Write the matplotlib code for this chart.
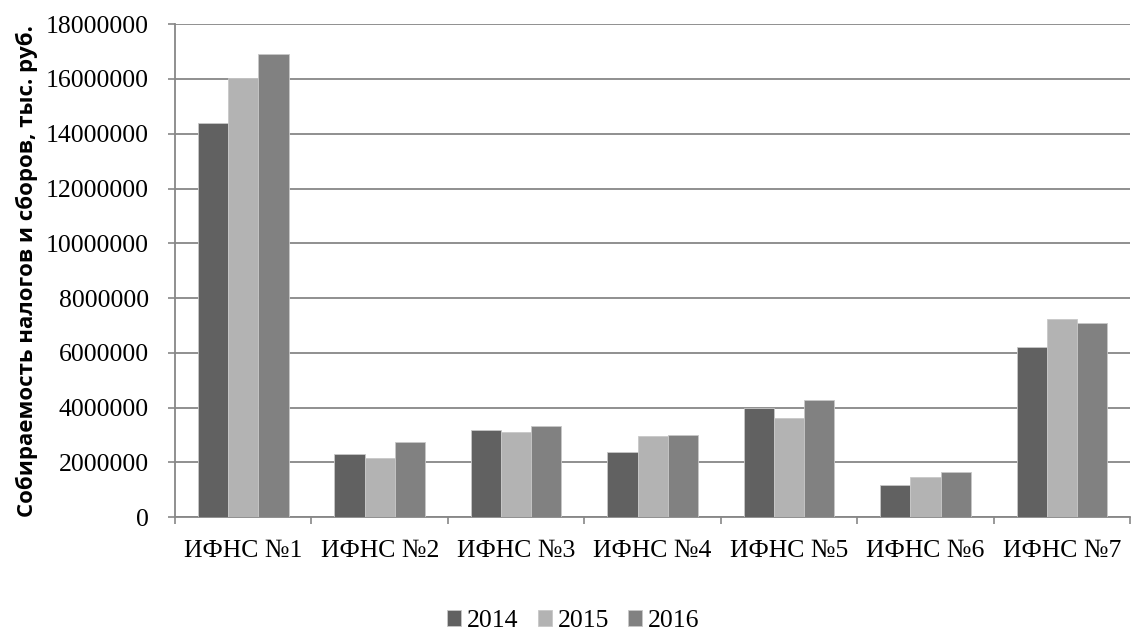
import matplotlib.pyplot as plt
import numpy as np

# Tax collection by inspectorate, thousand rubles
categories = ['ИФНС №1', 'ИФНС №2', 'ИФНС №3', 'ИФНС №4', 'ИФНС №5', 'ИФНС №6', 'ИФНС №7']
years = ['2014', '2015', '2016']
values_2014 = [14410000, 2310000, 3200000, 2370000, 4000000, 1190000, 6200000]
values_2015 = [16020000, 2150000, 3110000, 2960000, 3620000, 1480000, 7220000]
values_2016 = [16910000, 2740000, 3330000, 2990000, 4280000, 1640000, 7080000]
colors = ['#616161', '#b3b3b3', '#818181']

serif = ['Liberation Serif', 'DejaVu Serif']
plt.rcParams['font.family'] = serif

fig = plt.figure(figsize=(11.33, 6.33), dpi=100)
ax = fig.add_axes([0.1545, 0.1828, 0.843, 0.779])

x = np.arange(len(categories))
w = 0.221
for i, (vals, c, lab) in enumerate(zip([values_2014, values_2015, values_2016], colors, years)):
    ax.bar(x + (i - 1) * w, vals, width=w, color=c, edgecolor='#c8c8c8',
           linewidth=0.6, label=lab, zorder=3)

ax.set_xlim(-0.5, len(categories) - 0.5)
ax.set_ylim(0, 18000000)
ax.set_yticks(np.arange(0, 18000001, 2000000))
ax.yaxis.set_major_formatter(plt.FuncFormatter(lambda v, p: f'{int(v)}'))
ax.grid(axis='y', color='#878787', linewidth=1.3, zorder=0)

# category labels centred, tick marks on the group boundaries
ax.set_xticks(x)
ax.set_xticklabels(categories)
ax.set_xticks(np.arange(-0.5, len(categories)), minor=True)
ax.tick_params(axis='x', which='major', length=0, pad=16, labelsize=18.5)
ax.tick_params(axis='x', which='minor', length=5, width=1.2, color='#878787')
ax.tick_params(axis='y', length=5, width=1.2, color='#878787', labelsize=18.5, pad=14)

for s in ['top', 'right']:
    ax.spines[s].set_visible(False)
for s in ['left', 'bottom']:
    ax.spines[s].set_color('#878787')
    ax.spines[s].set_linewidth(1.3)

ax.set_ylabel('Собираемость налогов и сборов, тыс. руб.', fontsize=16,
              fontweight='bold', family=['Open Sans', 'DejaVu Sans'])
ax.yaxis.set_label_coords(-0.144, 0.5)

fig.legend(loc='center', bbox_to_anchor=(0.506, 0.019), ncol=3, frameon=False,
           fontsize=18.5, handlelength=0.54, handleheight=0.54, handletextpad=0.23,
           columnspacing=0.74, borderpad=0.1)

fig.savefig('out.png', dpi=100)
